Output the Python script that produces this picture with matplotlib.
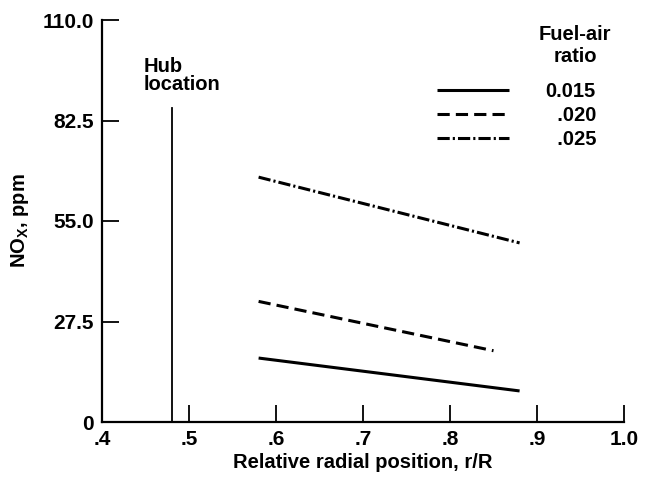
import numpy as np
import matplotlib
matplotlib.use("Agg")
from matplotlib import pyplot as plt

# 数据
fuel_air = ["0.015", "\u2007.020", "\u2007.025"]
r_solid = [0.58, 0.88]
nox_solid = [17.5, 8.5]
r_dash = [0.58, 0.85]
nox_dash = [33.0, 19.5]
r_dashdot = [0.58, 0.88]
nox_dashdot = [67.0, 49.0]
hub_r = 0.48
hub_top = 86.0

x_ticks = [0.4, 0.5, 0.6, 0.7, 0.8, 0.9, 1.0]
x_labels = [".4", ".5", ".6", ".7", ".8", ".9", "1.0"]
y_ticks = [0, 27.5, 55.0, 82.5, 110.0]
y_labels = ["0", "27.5", "55.0", "82.5", "110.0"]

plt.rcParams["font.family"] = ["Liberation Sans", "DejaVu Sans"]
plt.rcParams["font.weight"] = "bold"
plt.rcParams["mathtext.default"] = "regular"
FS = 14.5

fig = plt.figure(figsize=(6.46, 4.82), dpi=100)
ax = fig.add_axes([102 / 646, 1 - 422 / 482, 522 / 646, 402 / 482])

LW = 2.2
l1, = ax.plot(r_solid, nox_solid, c="black", lw=LW, solid_capstyle="butt")
l2, = ax.plot(r_dash, nox_dash, c="black", lw=LW, dashes=(4.0, 2.0))
l3, = ax.plot(r_dashdot, nox_dashdot, c="black", lw=LW, dashes=(4.0, 1.0, 0.7, 1.0))

# 轮毂位置
ax.plot([hub_r, hub_r], [0, hub_top], c="black", lw=1.3)
ax.text(0.448, 100, "Hub\nlocation", fontsize=FS, fontweight="bold",
        ha="left", va="top", linespacing=0.95)

# 图例
ax.text(0.944, 108.5, "Fuel-air\nratio", fontsize=FS, fontweight="bold",
        ha="center", va="top", linespacing=1.2)
ax.legend([l1, l2, l3], fuel_air, loc="upper left",
          bbox_to_anchor=(0.785, 93.0), bbox_transform=ax.transData,
          frameon=False, fontsize=FS, handlelength=3.6, handletextpad=1.8,
          labelspacing=0.25, borderpad=0, borderaxespad=0)

ax.set_xlim(0.4, 1.0)
ax.set_ylim(0, 110)
ax.set_xticks(x_ticks)
ax.set_xticklabels(x_labels)
ax.set_yticks(y_ticks)
ax.set_yticklabels(y_labels)
ax.tick_params(direction="in", length=12, width=1.3, labelsize=15, pad=6)
for s in ["top", "right"]:
    ax.spines[s].set_visible(False)
for s in ["left", "bottom"]:
    ax.spines[s].set_linewidth(1.6)

ax.set_xlabel("Relative radial position, r/R", fontsize=FS, fontweight="bold", labelpad=3)
ax.set_ylabel("NO$_X$, ppm", fontsize=FS, fontweight="bold", labelpad=8)

fig.savefig("out.png", dpi=100)
